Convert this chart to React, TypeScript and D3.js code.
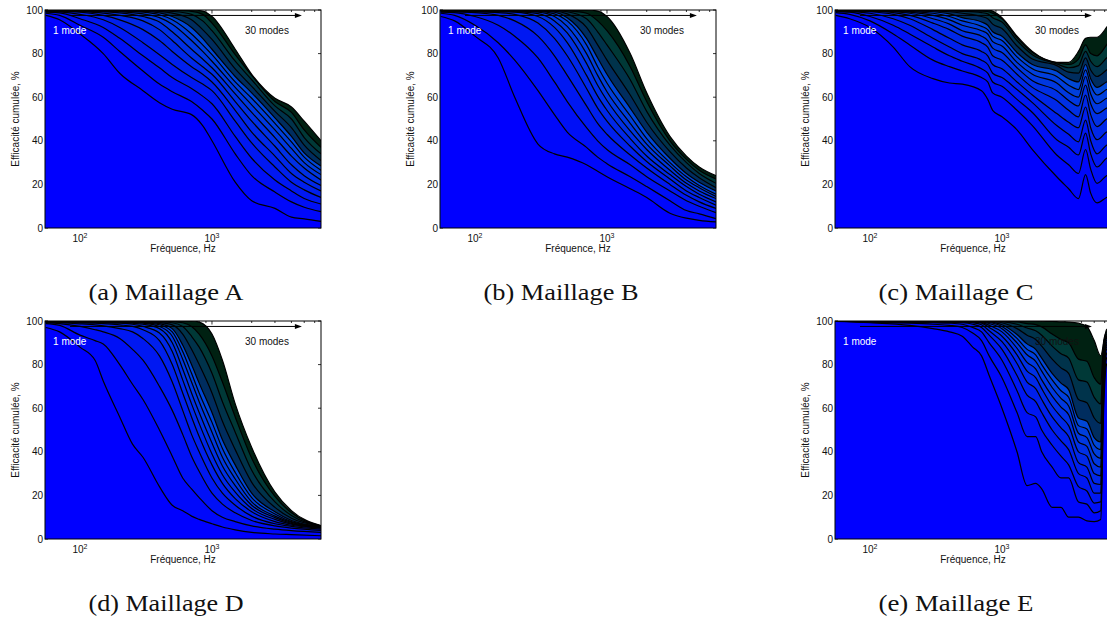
import React from 'react';
import * as d3 from 'd3';

// ---------- shared axis data ----------
const MODES = [1, 2, 3, 4, 5, 6, 7, 8, 9, 10, 13, 17, 22, 30];
const TOTAL_MODES = 30;
const Y_TICKS = [0, 20, 40, 60, 80, 100];
const X_MAJOR = [100, 1000];
const X_MINOR = [60, 70, 80, 90, 200, 300, 400, 500, 600, 700, 800, 900, 2000, 3000, 4000, 5000, 6000];
const X_DOMAIN = [54.3, 6700];
const ARROW = { from: 84, to: 4800, level: 97.5 };
const LABEL_1 = { f: 62.5, v: 89, text: '1 mode' };
const LABEL_30 = { f: 1780, v: 89, text: '30 modes' };

// ---------- Maillage A ----------
const FREQ_A = [55, 70, 100, 150, 200, 300, 400, 500, 700, 850, 1000, 1500, 2000, 3000, 4000, 5000, 6700];
const CURVES_A = [
  [97.5, 95.5, 89, 80, 71, 63, 57.5, 54.5, 52, 47, 40, 21, 12.5, 9, 5, 4.2, 3],
  [98.5, 97.5, 93, 87.5, 81, 72, 66, 62.5, 58, 54, 50, 34, 24, 16.5, 12, 9.5, 7.5],
  [99, 98.7, 96, 92, 87, 79, 73.5, 69, 64, 60.5, 57, 42, 32, 22, 17, 13.5, 11],
  [99.3, 99.1, 98, 95.5, 92, 85, 79.5, 75, 69, 66, 63, 49, 39, 28, 21, 17.5, 14],
  [99.5, 99.4, 99, 97.5, 95.5, 91, 86, 81, 74, 70.5, 67, 54, 44, 33, 25, 21, 17],
  [99.6, 99.5, 99.3, 98.6, 97.5, 95, 91, 86, 78, 74, 70.5, 58, 49, 37.5, 29, 24, 19.5],
  [99.7, 99.6, 99.5, 99.2, 98.7, 97, 94.5, 90, 82, 77.5, 73.5, 61.5, 53, 41.5, 33, 27.5, 22],
  [99.8, 99.7, 99.6, 99.5, 99.2, 98.2, 96.5, 93.5, 86, 81, 76.5, 64.5, 56.5, 45, 36.5, 30, 24.5],
  [99.8, 99.8, 99.7, 99.6, 99.5, 99, 97.8, 95.5, 89, 84, 79.5, 67, 59.5, 48, 39.5, 32.5, 26.5],
  [99.9, 99.9, 99.8, 99.7, 99.6, 99.4, 98.7, 97, 92, 87, 82, 69.5, 62, 50.5, 42, 34.5, 28.5],
  [99.9, 99.9, 99.9, 99.8, 99.8, 99.7, 99.4, 98.6, 95.5, 91, 86.5, 73, 65, 53.5, 46, 38, 31],
  [100, 100, 99.9, 99.9, 99.9, 99.8, 99.7, 99.4, 98, 95, 90.5, 76.5, 68, 56, 50, 41.5, 34],
  [100, 100, 100, 100, 99.9, 99.9, 99.9, 99.8, 99.4, 98, 94, 79.5, 70, 58, 53, 45, 37],
  [100, 100, 100, 100, 100, 100, 100, 100, 100, 99.5, 97, 82, 70.5, 59.5, 55.5, 49, 40],
];

// ---------- Maillage B ----------
const FREQ_B = [55, 70, 100, 150, 200, 300, 400, 500, 700, 850, 1000, 1500, 2000, 3000, 4000, 5000, 6700];
const CURVES_B = [
  [97, 95, 88, 78, 60, 38.5, 34, 32.5, 29, 26, 23.5, 18, 14, 6.8, 4.5, 3.5, 2.8],
  [98.5, 97.5, 93, 85, 77, 63, 52, 44, 37, 32.5, 29.5, 23.5, 19, 12.5, 8, 6.5, 4.3],
  [99, 98.8, 97, 93, 88, 78, 67, 58, 46, 40, 36, 29, 23.5, 17, 12.5, 10, 7],
  [99.3, 99.2, 98.8, 97.5, 95, 88, 79, 70, 56, 48, 43, 33.5, 27.5, 20, 15, 12, 9],
  [99.5, 99.4, 99.2, 98.8, 98, 94, 87, 79, 64, 55, 49, 37.5, 30.5, 22.5, 17, 14, 10.5],
  [99.6, 99.5, 99.4, 99.2, 99, 97, 92, 85, 70, 60.5, 54, 41, 33, 24.5, 19, 15.5, 12],
  [99.7, 99.6, 99.5, 99.4, 99.3, 98.3, 95, 89.5, 75.5, 65.5, 58.5, 44.5, 36, 26.5, 20.5, 17, 13.5],
  [99.8, 99.7, 99.6, 99.5, 99.5, 99, 97, 92.5, 80, 70, 62.5, 48, 38.5, 28.5, 22, 18.5, 14.5],
  [99.8, 99.8, 99.7, 99.6, 99.6, 99.4, 98.2, 95, 84, 74, 66.5, 51.5, 41, 30, 23.5, 19.5, 15.5],
  [99.9, 99.9, 99.8, 99.7, 99.7, 99.6, 99, 96.5, 87, 78, 70.5, 55, 44, 32, 25, 21, 17],
  [99.9, 99.9, 99.9, 99.8, 99.8, 99.7, 99.5, 98.2, 92, 84, 77, 61, 48.5, 35, 27.5, 23, 18.5],
  [100, 100, 99.9, 99.9, 99.9, 99.8, 99.7, 99.2, 96, 90, 84, 68, 53.5, 38, 30, 25, 20.5],
  [100, 100, 100, 100, 99.9, 99.9, 99.8, 99.6, 98.5, 95, 90.5, 74, 58, 40, 31.5, 26.5, 22.5],
  [100, 100, 100, 100, 100, 100, 100, 100, 100, 99.5, 97, 80, 62, 42, 33, 28, 24],
];

// ---------- Maillage C ----------
const FREQ_C = [55, 70, 100, 150, 200, 300, 400, 500, 700, 780, 850, 1000, 1300, 1700, 2600, 3200, 3800, 4300, 4700, 5250, 6200, 6700];
const CURVES_C = [
  [97.5, 96, 92, 83, 74, 68.5, 66.5, 66, 63, 59, 54, 51, 45, 36, 23.5, 18, 13.5, 24.5, 16, 11.5, 14, 15],
  [98.8, 98, 95, 89, 84, 77, 74, 72, 69, 67, 62, 60, 54, 47, 33.5, 29, 25, 36, 27, 20.5, 24, 25],
  [99.3, 99, 97, 93, 89, 83, 79, 76.5, 73, 71, 67, 65, 59, 53, 40.5, 37, 33.5, 43.5, 34, 28, 32, 33],
  [99.5, 99.3, 98.5, 96, 93, 87, 83, 80, 77, 75, 71, 69, 63.5, 57.5, 47, 43, 39.5, 49.5, 40, 34, 38, 39],
  [99.6, 99.5, 99.2, 98, 96, 91, 87, 84, 81, 79, 75, 73, 67, 61, 52.5, 48.5, 46, 55.5, 46, 40.5, 44, 45],
  [99.7, 99.6, 99.4, 98.8, 97.5, 94, 91, 88, 85, 83, 79, 77, 70.5, 64.5, 58.5, 54, 51, 61, 52, 46.5, 50, 51],
  [99.8, 99.7, 99.5, 99.2, 98.5, 96, 93.5, 90.5, 88, 86, 82.5, 80.5, 73.5, 67.5, 63, 58.5, 56, 65.5, 57, 52.5, 55, 56],
  [99.8, 99.8, 99.6, 99.4, 99, 97.5, 95.5, 93, 90.5, 89, 85.5, 83.5, 76, 70.5, 66.5, 62, 60, 69.5, 61.5, 57, 59.5, 60.5],
  [99.9, 99.8, 99.7, 99.6, 99.4, 98.5, 97, 95, 92.5, 91, 88, 86, 78.5, 73, 69.5, 65.5, 63.5, 72.5, 65.5, 61, 63.5, 64.5],
  [99.9, 99.9, 99.8, 99.7, 99.6, 99.2, 98.2, 96.5, 94.5, 93, 90, 88, 80.5, 75, 72, 68.5, 67, 75, 68.5, 64.5, 67, 68],
  [99.9, 99.9, 99.9, 99.8, 99.8, 99.6, 99.2, 98.5, 97, 96, 93.5, 91.5, 83.5, 77.5, 74.5, 71.5, 71, 78, 72.5, 69.5, 72.5, 74],
  [100, 100, 99.9, 99.9, 99.9, 99.8, 99.6, 99.4, 98.8, 98.2, 96.5, 94.5, 86, 79.5, 75.3, 73.5, 74.5, 81, 76.5, 74, 78, 80],
  [100, 100, 100, 100, 99.9, 99.9, 99.8, 99.7, 99.5, 99.3, 98.5, 96, 87.3, 80.5, 75.8, 75, 77.5, 84, 80, 79, 84, 87],
  [100, 100, 100, 100, 100, 100, 100, 100, 100, 100, 99.5, 96.5, 88, 81, 76, 76, 81, 87, 87.5, 87.5, 92, 95],
];

// ---------- Maillage D ----------
const FREQ_D = [55, 70, 100, 130, 150, 200, 250, 300, 400, 500, 600, 700, 800, 1000, 1200, 1500, 2000, 3000, 4000, 6700];
const CURVES_D = [
  [97, 95, 88, 82, 72.5, 56, 43.5, 37.5, 24, 15.5, 13, 10.5, 9, 7, 5.5, 4.2, 3, 2.3, 2, 1.5],
  [98.8, 98, 93.5, 91, 89.5, 80, 71, 64, 50, 38, 28, 23, 19, 13, 10, 8, 6, 4.5, 3.8, 3],
  [99.2, 98.8, 97.5, 96, 95, 92, 87, 82, 70, 59, 48, 38, 31, 21, 16, 12, 8.5, 6, 5, 4],
  [99.4, 99.2, 98.7, 98.2, 97.8, 96.5, 95, 92, 84, 72, 59, 48, 40, 28, 21, 15.5, 10.5, 7, 5.8, 4.5],
  [99.5, 99.4, 99.2, 99, 98.8, 98.2, 97.5, 96, 91, 80, 67, 56, 47, 34, 25.5, 18.5, 12.5, 8, 6.3, 5],
  [99.6, 99.5, 99.4, 99.3, 99.2, 99, 98.5, 97.5, 94.5, 86, 73, 62, 53, 39, 29.5, 21.5, 14, 9, 6.8, 5.2],
  [99.7, 99.6, 99.5, 99.5, 99.4, 99.3, 99, 98.5, 96.5, 90, 78, 67, 58, 44, 33.5, 24.5, 15.5, 9.8, 7.2, 5.4],
  [99.8, 99.7, 99.6, 99.6, 99.6, 99.5, 99.3, 99, 97.5, 93, 82.5, 72, 63, 49, 37.5, 27.5, 17, 10.5, 7.6, 5.5],
  [99.8, 99.8, 99.7, 99.7, 99.7, 99.6, 99.5, 99.3, 98.3, 95, 86, 76, 67, 53.5, 41.5, 30.5, 19, 11.5, 8, 5.7],
  [99.9, 99.9, 99.8, 99.8, 99.8, 99.7, 99.6, 99.5, 98.8, 96.5, 89, 80, 71.5, 58, 45.5, 34, 21, 12.5, 8.5, 5.8],
  [99.9, 99.9, 99.9, 99.9, 99.9, 99.8, 99.7, 99.7, 99.3, 98.2, 94, 87, 80, 67, 54, 41, 26, 14.5, 9.5, 6],
  [100, 100, 99.9, 99.9, 99.9, 99.9, 99.8, 99.8, 99.6, 99.2, 97.5, 93, 88, 76, 63, 49, 31.5, 17, 10.8, 6],
  [100, 100, 100, 100, 100, 99.9, 99.9, 99.9, 99.8, 99.7, 99.2, 97.5, 94, 84, 72, 56, 37, 19.5, 12, 6],
  [100, 100, 100, 100, 100, 100, 100, 100, 100, 100, 100, 100, 99.5, 94, 82, 62, 42, 21.5, 13, 6.1],
];

// ---------- Maillage E ----------
const FREQ_E = [55, 100, 200, 300, 400, 500, 600, 700, 800, 1000, 1300, 1550, 1800, 2000, 2400, 2800, 3200, 3800, 4400, 5000, 5600, 5900, 6200, 6700];
const CURVES_E = [
  [99.8, 99.2, 98, 96.5, 95, 93, 88, 84, 75, 60, 40, 24.5, 25.5, 23, 14.5, 14.5, 10, 10, 8.3, 8, 9, 60, 80, 82],
  [99.9, 99.5, 99, 98.5, 98, 97, 94.5, 91, 84, 74, 58, 47, 47, 40, 33, 28, 28, 17, 16, 12, 13, 65, 83, 85],
  [99.9, 99.7, 99.4, 99.2, 99, 98.5, 97, 95, 90, 82, 68, 58, 56, 50, 43, 38, 34, 24, 22, 16.5, 17, 70, 85, 87],
  [99.9, 99.8, 99.6, 99.5, 99.4, 99.2, 98.5, 97, 93.5, 87, 75, 66, 63, 58, 50, 45, 41, 30, 28, 21, 21, 74, 87, 88],
  [100, 99.9, 99.8, 99.7, 99.6, 99.5, 99.2, 98.3, 95.5, 90.5, 80.5, 72, 69, 64, 56, 51, 47, 35, 33, 25.5, 25, 77, 88, 89],
  [100, 99.9, 99.9, 99.8, 99.8, 99.7, 99.5, 99, 97, 93, 84.5, 77, 74, 69, 61, 56, 52, 40, 38, 30, 29, 79, 89, 90],
  [100, 100, 99.9, 99.9, 99.9, 99.8, 99.7, 99.4, 98, 95, 87.5, 81, 78, 73, 65.5, 60.5, 57, 44.5, 42.5, 34.5, 33, 81, 90, 91],
  [100, 100, 100, 99.9, 99.9, 99.9, 99.8, 99.6, 98.8, 96.5, 90, 84.5, 81.5, 77, 69.5, 64.5, 61, 48.5, 46.5, 39, 37, 83, 91, 92],
  [100, 100, 100, 100, 99.9, 99.9, 99.9, 99.7, 99.3, 97.5, 92, 87, 84.5, 80, 73, 68, 65, 52, 50.5, 43, 41, 84, 92, 93],
  [100, 100, 100, 100, 100, 99.9, 99.9, 99.8, 99.6, 98.3, 93.8, 89.5, 87, 83, 76, 71.5, 68.5, 55.5, 54, 46.5, 44.5, 85, 92.5, 93.5],
  [100, 100, 100, 100, 100, 100, 99.9, 99.9, 99.8, 99.2, 96.5, 93.5, 91.5, 88.5, 82.5, 78.5, 76, 64, 62.5, 55.5, 53, 87, 93, 94],
  [100, 100, 100, 100, 100, 100, 100, 100, 99.9, 99.7, 98.5, 96.8, 95.5, 93.5, 88.5, 85, 83, 73, 72, 65, 62, 89, 94, 95],
  [100, 100, 100, 100, 100, 100, 100, 100, 100, 99.9, 99.6, 98.8, 98.3, 97.3, 94, 91.5, 90, 82.5, 81.5, 74, 71, 91, 95, 96],
  [100, 100, 100, 100, 100, 100, 100, 100, 100, 100, 100, 100, 100, 99.9, 99.8, 99.6, 99.5, 99, 97.5, 91, 84, 90, 96, 97],
];

const PANELS = [
  { id: 'a', caption: '(a) Maillage A', ox: 0, oy: 0, freq: FREQ_A, curves: CURVES_A },
  { id: 'b', caption: '(b) Maillage B', ox: 395, oy: 0, freq: FREQ_B, curves: CURVES_B },
  { id: 'c', caption: '(c) Maillage C', ox: 790, oy: 0, freq: FREQ_C, curves: CURVES_C },
  { id: 'd', caption: '(d) Maillage D', ox: 0, oy: 311, freq: FREQ_D, curves: CURVES_D },
  { id: 'e', caption: '(e) Maillage E', ox: 790, oy: 311, freq: FREQ_E, curves: CURVES_E },
];

const L = 45, T = 10, W = 276, H = 218;
const SANS = '"Liberation Sans", Arial, Helvetica, sans-serif';

function bandColor(i: number): string {
  const m = MODES[i];
  const prev = i > 0 ? MODES[i - 1] : 0;
  const t = (m - 1) / (TOTAL_MODES - 1);
  const base = d3.rgb(0, 230 * t, 255 * (1 - t / 2));
  const hidden = m - prev - 1;
  const dark = hidden > 0 ? Math.min(0.86, 0.4 + 0.065 * hidden) : 0;
  return d3.interpolateRgb(base, '#000')(dark);
}

function Panel({ p }: { p: typeof PANELS[number] }) {
  const x = d3.scaleLog().domain(X_DOMAIN).range([L, L + W]);
  const y = d3.scaleLinear().domain([0, 100]).range([T + H, T]);
  const pts = (vals: number[]) => vals.map((v, j) => [p.freq[j], v] as [number, number]);
  const area = d3.area<[number, number]>().x(d => x(d[0])).y0(y(0)).y1(d => y(d[1])).curve(d3.curveMonotoneX);
  const line = d3.line<[number, number]>().x(d => x(d[0])).y(d => y(d[1])).curve(d3.curveMonotoneX);
  const clipId = `clip-${p.id}`;
  const ay = y(ARROW.level);
  const ax1 = x(ARROW.from), ax2 = x(ARROW.to);
  return (
    <g transform={`translate(${p.ox},${p.oy})`}>
      <defs>
        <clipPath id={clipId}><rect x={L} y={T} width={W} height={H} /></clipPath>
      </defs>
      <g stroke="#000" strokeWidth={0.8}>
        {Y_TICKS.map(t => (
          <g key={t}>
            <line x1={L} x2={L + 3} y1={y(t)} y2={y(t)} />
            <line x1={L + W} x2={L + W - 3} y1={y(t)} y2={y(t)} />
          </g>
        ))}
        {X_MAJOR.map(t => (
          <g key={t}>
            <line x1={x(t)} x2={x(t)} y1={T + H} y2={T + H - 3.5} />
            <line x1={x(t)} x2={x(t)} y1={T} y2={T + 3.5} />
          </g>
        ))}
        {X_MINOR.map(t => (
          <g key={t}>
            <line x1={x(t)} x2={x(t)} y1={T + H} y2={T + H - 2} />
            <line x1={x(t)} x2={x(t)} y1={T} y2={T + 2} />
          </g>
        ))}
      </g>
      <g clipPath={`url(#${clipId})`}>
        {p.curves.map((c, i) => i).reverse().map(i => (
          <path key={`a${i}`} d={area(pts(p.curves[i])) || ''} fill={bandColor(i)} stroke="none" />
        ))}
        {p.curves.map((c, i) => (
          <path key={`l${i}`} d={line(pts(c)) || ''} fill="none" stroke="#000" strokeWidth={1.2} />
        ))}
      </g>
      <rect x={L} y={T} width={W} height={H} fill="none" stroke="#000" strokeWidth={1} />
      <g fontFamily={SANS} fontSize={10} fill="#111">
        {Y_TICKS.map(t => (
          <text key={t} x={L - 2} y={y(t)} textAnchor="end" dominantBaseline="central">{t}</text>
        ))}
        {X_MAJOR.map(t => (
          <text key={t} x={x(t)} y={T + H + 14} textAnchor="middle">
            10<tspan dy={-4} fontSize={7}>{Math.round(Math.log10(t))}</tspan>
          </text>
        ))}
        <text x={L + W / 2} y={T + H + 24} textAnchor="middle">Fréquence, Hz</text>
        <text transform={`translate(${L - 26},${T + H / 2}) rotate(-90)`} textAnchor="middle">Efficacité cumulée, %</text>
      </g>
      <line x1={ax1} x2={ax2 - 5} y1={ay} y2={ay} stroke="#000" strokeWidth={1} />
      <path d={`M${ax2},${ay} L${ax2 - 7},${ay - 2.5} L${ax2 - 7},${ay + 2.5} Z`} fill="#000" />
      <text x={x(LABEL_1.f)} y={y(LABEL_1.v)} fontFamily={SANS} fontSize={10} fill="#fff">{LABEL_1.text}</text>
      <text x={x(LABEL_30.f)} y={y(LABEL_30.v)} fontFamily={SANS} fontSize={10} fill="#111">{LABEL_30.text}</text>
      <text x={166} y={300} textAnchor="middle" fontFamily='"Liberation Serif", "Times New Roman", serif'
        fontSize={24} textLength={155} lengthAdjust="spacingAndGlyphs" fill="#111">{p.caption}</text>
    </g>
  );
}

export default function App() {
  return (
    <svg width={1107} height={619} style={{ position: 'absolute', left: 0, top: 0, background: '#fff' }}>
      <rect x={0} y={0} width={1107} height={619} fill="#fff" />
      {PANELS.map(p => <Panel key={p.id} p={p} />)}
    </svg>
  );
}
